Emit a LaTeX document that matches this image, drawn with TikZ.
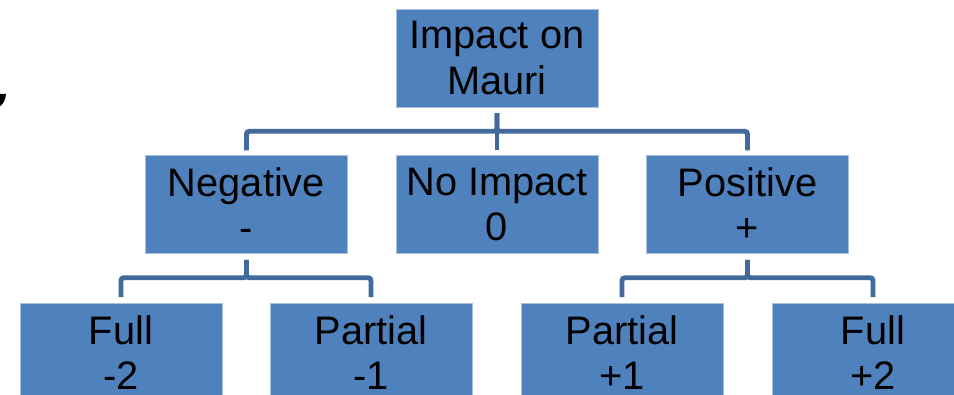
\documentclass[tikz,border=0pt]{standalone}
\usepackage{fontspec}
\setmainfont{Liberation Sans}
\usepackage{tikz}
\definecolor{boxblue}{HTML}{4F81BD}
\definecolor{lineblue}{HTML}{41699C}
\definecolor{edgeblue}{HTML}{A9C0DE}

\begin{document}
\begin{tikzpicture}[
   box/.style={fill=boxblue, draw=edgeblue, line width=0.4pt, minimum width=5.05cm,
               minimum height=2.45cm, inner sep=0pt, align=center,
               font=\fontsize{28.3}{32.3}\selectfont},
   link/.style={draw=lineblue, line width=3.5pt, rounded corners=2pt}]
   \useasboundingbox (0,0) rectangle (23.85,9.875);

   \node[box] (mauri) at (12.425, 8.425) {Impact on\\Mauri};

   \node[box] (neg)  at ( 6.1625, 4.7625) {Negative\\-};
   \node[box] (none) at (12.425,  4.7625) {No Impact\\0};
   \node[box] (pos)  at (18.6875, 4.7625) {Positive\\+};

   \node[box] (negfull) at ( 3.025, 1.0625) {Full\\-2};
   \node[box] (negpart) at ( 9.275, 1.0625) {Partial\\-1};
   \node[box] (pospart) at (15.55,  1.0625) {Partial\\+1};
   \node[box] (posfull) at (21.825, 1.0625) {Full\\+2};

   \draw[link] ([yshift=-0.15cm]mauri.south) -- ++(0,-0.45) -| ([yshift=0.12cm]neg.north);
   \draw[link] ([yshift=-0.15cm]mauri.south) -- ++(0,-0.45) -| ([yshift=0.12cm]pos.north);
   \draw[link] ([yshift=-0.15cm]mauri.south) -- ([yshift=0.12cm]none.north);

   \draw[link] ([yshift=-0.15cm]neg.south) -- ++(0,-0.45) -| ([yshift=0.15cm]negfull.north);
   \draw[link] ([yshift=-0.15cm]neg.south) -- ++(0,-0.45) -| ([yshift=0.15cm]negpart.north);
   \draw[link] ([yshift=-0.15cm]pos.south) -- ++(0,-0.45) -| ([yshift=0.15cm]pospart.north);
   \draw[link] ([yshift=-0.15cm]pos.south) -- ++(0,-0.45) -| ([yshift=0.15cm]posfull.north);

   % stray mark at the left edge
   \fill (0,7.53) -- (0.15,7.53) .. controls (0.14,7.38) and (0.08,7.27) .. (0,7.22) -- cycle;
\end{tikzpicture}
\end{document}
